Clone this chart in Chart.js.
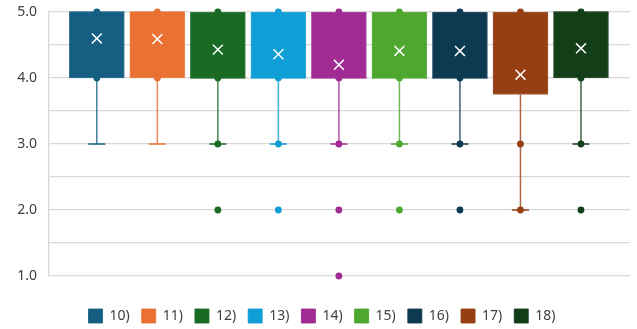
<!DOCTYPE html>
<html>
<head>
<meta charset="utf-8">
<script src="https://cdn.jsdelivr.net/npm/chart.js@4.4.1/dist/chart.umd.min.js"></script>
<style>
  html, body { margin: 0; padding: 0; background: #fff; }
  #wrap { width: 637px; height: 329px; }
</style>
</head>
<body>
<div id="wrap"><canvas id="boxChart" width="637" height="329"></canvas></div>
<script>
// ===== Data =====
const categories = ["10)", "11)", "12)", "13)", "14)", "15)", "16)", "17)", "18)"];
const q1 = [4, 4, 4, 4, 4, 4, 4, 3.75, 4];
const q3 = [5, 5, 5, 5, 5, 5, 5, 5, 5];
const medians = [5, 5, 4, 4, 4, 4, 4, 4, 5];
const whiskerLow = [3, 3, 3, 3, 3, 3, 3, 2, 3];
const means = [4.6, 4.59, 4.43, 4.36, 4.2, 4.41, 4.41, 4.05, 4.45];
const points = [
  [5, 4],
  [5, 4],
  [5, 4, 3, 2],
  [5, 4, 3, 2],
  [5, 4, 3, 2, 1],
  [5, 4, 3, 2],
  [5, 4, 3, 2],
  [5, 4, 3, 2],
  [5, 4, 3, 2]
];
const yTicks = [1, 1.5, 2, 2.5, 3, 3.5, 4, 4.5, 5];

const colors = ["#156082", "#e97132", "#196b24", "#0f9ed5", "#a02b93", "#4ea72e", "#0e3a51", "#953f13", "#123e18"];

function rgba(hex, a) {
  const n = parseInt(hex.slice(1), 16);
  return `rgba(${(n >> 16) & 255}, ${(n >> 8) & 255}, ${n & 255}, ${a})`;
}

// ===== Datasets =====
const boxSets = [];
const extraSets = [];

categories.forEach((name, i) => {
  const c = colors[i];

  boxSets.push({
    type: "bar",
    label: name,
    data: [{ x: i, y: [q1[i], q3[i]] }],
    backgroundColor: c,
    borderColor: rgba(c, 0.85),
    borderWidth: 1,
    borderSkipped: false,
    barThickness: 55,
    grouped: false,
    order: 6
  });

  // whisker
  extraSets.push({
    type: "line",
    label: name + " whisker",
    data: [{ x: i, y: q1[i] }, { x: i, y: whiskerLow[i] }],
    borderColor: rgba(c, 0.8),
    borderWidth: 1.5,
    pointRadius: 0,
    clip: false,
    order: 5
  });

  // whisker cap
  extraSets.push({
    type: "scatter",
    label: name + " cap",
    data: [{ x: i, y: whiskerLow[i] }],
    pointStyle: "line",
    pointRadius: 8.5,
    borderColor: c,
    borderWidth: 1.5,
    clip: false,
    order: 4
  });

  // median
  extraSets.push({
    type: "scatter",
    label: name + " median",
    data: [{ x: i, y: medians[i] }],
    pointStyle: "line",
    pointRadius: 27.5,
    borderColor: rgba(c, 0.8),
    borderWidth: 1.5,
    clip: false,
    order: 4
  });

  // data points / outliers
  extraSets.push({
    type: "scatter",
    label: name + " points",
    data: points[i].map(v => ({ x: i, y: v })),
    pointStyle: "circle",
    pointRadius: 3.4,
    backgroundColor: c,
    borderColor: c,
    borderWidth: 0,
    clip: false,
    order: 3
  });

  // mean
  extraSets.push({
    type: "scatter",
    label: name + " mean",
    data: [{ x: i, y: means[i] }],
    pointStyle: "crossRot",
    pointRadius: 7,
    borderColor: "#ffffff",
    borderWidth: 1.5,
    clip: false,
    order: 1
  });
});

// ===== Chart =====
const font = { family: "'Noto Sans', 'Open Sans', sans-serif", size: 14 };

new Chart(document.getElementById("boxChart").getContext("2d"), {
  type: "bar",
  data: { datasets: [...boxSets, ...extraSets] },
  options: {
    responsive: false,
    animation: false,
    layout: { autoPadding: false, padding: { left: 14, right: 7, top: 12, bottom: -4 } },
    plugins: {
      tooltip: { enabled: false },
      legend: {
        position: "bottom",
        labels: {
          font: font,
          color: "#404040",
          boxWidth: 14,
          boxHeight: 14,
          padding: 12,
          filter: item => item.datasetIndex < categories.length
        }
      }
    },
    scales: {
      x: {
        type: "linear",
        offset: false,
        min: -0.79,
        max: 8.81,
        grid: { display: false },
        border: { display: false },
        ticks: { display: false },
        afterFit: s => { s.height = 21; }
      },
      y: {
        min: 1,
        max: 5,
        afterBuildTicks: s => { s.ticks = yTicks.map(v => ({ value: v })); },
        afterFit: s => {
          s.width = 35;
          s.paddingTop = 0;
          s.paddingBottom = 0;
        },
        grid: { color: "#d9d9d9", lineWidth: 1.3, drawTicks: false },
        border: { color: "#d9d9d9", width: 1.3 },
        ticks: {
          font: font,
          color: "#404040",
          padding: 12,
          callback: v => (v % 1 === 0 ? v.toFixed(1) : "")
        }
      }
    }
  }
});
</script>
</body>
</html>
